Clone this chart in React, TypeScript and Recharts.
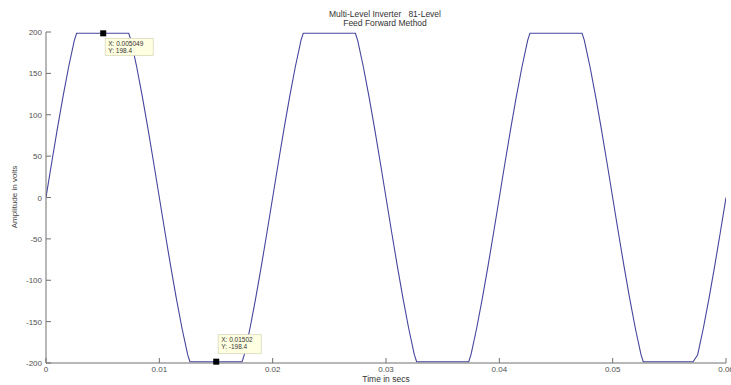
import React from 'react';
import { LineChart, Line, XAxis, YAxis, ReferenceDot } from 'recharts';

const timeSecs = [
  0, 0.0005, 0.001, 0.0015, 0.002, 0.0025, 0.0027, 0.0073, 0.0075, 0.008, 0.0085, 0.009, 0.0095,
  0.01, 0.0105, 0.011, 0.0115, 0.012, 0.0125, 0.0127, 0.0173, 0.0175, 0.018, 0.0185, 0.019, 0.0195,
  0.02, 0.0205, 0.021, 0.0215, 0.022, 0.0225, 0.0227, 0.0273, 0.0275, 0.028, 0.0285, 0.029, 0.0295,
  0.03, 0.0305, 0.031, 0.0315, 0.032, 0.0325, 0.0327, 0.0373, 0.0375, 0.038, 0.0385, 0.039, 0.0395,
  0.04, 0.0405, 0.041, 0.0415, 0.042, 0.0425, 0.0427, 0.0473, 0.0475, 0.048, 0.0485, 0.049, 0.0495,
  0.05, 0.0505, 0.051, 0.0515, 0.052, 0.0525, 0.0527, 0.0571, 0.0575, 0.058, 0.0585, 0.059, 0.0595,
  0.06,
];

const amplitudeVolts = [
  0, 42, 83, 122, 158, 190, 198.4, 198.4, 190, 158, 122, 83, 42,
  0, -42, -83, -122, -158, -190, -198.4, -198.4, -190, -158, -122, -83, -42,
  0, 42, 83, 122, 158, 190, 198.4, 198.4, 190, 158, 122, 83, 42,
  0, -42, -83, -122, -158, -190, -198.4, -198.4, -190, -158, -122, -83, -42,
  0, 42, 83, 122, 158, 190, 198.4, 198.4, 190, 158, 122, 83, 42,
  0, -42, -83, -122, -158, -190, -198.4, -198.4, -190, -158, -122, -83, -42,
  0,
];

const xTicks = [0, 0.01, 0.02, 0.03, 0.04, 0.05, 0.06];
const xTickLabels = ['0', '0.01', '0.02', '0.03', '0.04', '0.05', '0.06'];
const yTicks = [-200, -150, -100, -50, 0, 50, 100, 150, 200];

const dataTips = [
  { x: 0.005049, y: 198.4, xLabel: 'X: 0.005049', yLabel: 'Y: 198.4', dx: 2, dy: 5, w: 48, h: 17 },
  { x: 0.01502, y: -198.4, xLabel: 'X: 0.01502', yLabel: 'Y: -198.4', dx: 2, dy: -27, w: 43, h: 19 },
];

const data = timeSecs.map((t, i) => ({ t, v: amplitudeVolts[i] }));

const AXIS = '#707070';
const TXT = '#505050';
const FONT = 'Liberation Sans, Arial, sans-serif';

const BottomTick = (props: any) => {
  const { x, y, payload } = props;
  const idx = xTicks.indexOf(payload.value);
  return (
    <g>
      <line x1={x} x2={x} y1={y} y2={y - 5} stroke={AXIS} strokeWidth={1} />
      <text x={x} y={y + 9} textAnchor="middle" fontSize={8} fill={TXT} fontFamily={FONT}>
        {idx >= 0 ? xTickLabels[idx] : payload.value}
      </text>
    </g>
  );
};

const TopTick = (props: any) => {
  const { x, y } = props;
  return <line x1={x} x2={x} y1={y} y2={y + 5} stroke={AXIS} strokeWidth={1} />;
};

const LeftTick = (props: any) => {
  const { x, y, payload } = props;
  return (
    <g>
      <line x1={x} x2={x + 5} y1={y} y2={y} stroke={AXIS} strokeWidth={1} />
      <text x={x - 4} y={y + 3} textAnchor="end" fontSize={8} fill={TXT} fontFamily={FONT}>
        {payload.value}
      </text>
    </g>
  );
};

const RightTick = (props: any) => {
  const { x, y } = props;
  return <line x1={x} x2={x - 5} y1={y} y2={y} stroke={AXIS} strokeWidth={1} />;
};

const makeTipShape = (tip: typeof dataTips[number]) => (props: any) => {
  const { cx, cy } = props;
  const bx = cx + tip.dx;
  const by = cy + tip.dy;
  return (
    <g>
      <rect x={bx} y={by} width={tip.w} height={tip.h} fill="#ffffe1" stroke="#d8d8b8" strokeWidth={0.8} />
      <text x={bx + 3} y={by + 7.5} fontSize={6.5} fill="#333" fontFamily={FONT}>{tip.xLabel}</text>
      <text x={bx + 3} y={by + 14.5} fontSize={6.5} fill="#333" fontFamily={FONT}>{tip.yLabel}</text>
      <rect x={cx - 3} y={cy - 3} width={6} height={6} fill="#000" />
    </g>
  );
};

export default function App() {
  return (
    <div style={{ position: 'absolute', left: 0, top: 0, width: 731, height: 385, overflow: 'hidden', background: '#fff' }}>
      <LineChart width={760} height={385} data={data} margin={{ top: 32, right: 34, bottom: 0, left: 0 }}>
        <XAxis
          xAxisId="bottom"
          dataKey="t"
          type="number"
          domain={[0, 0.06]}
          ticks={xTicks}
          orientation="bottom"
          height={22}
          tickSize={0}
          tickMargin={0}
          tickLine={false}
          axisLine={{ stroke: AXIS }}
          tick={BottomTick}
          interval={0}
          allowDataOverflow
        />
        <XAxis
          xAxisId="top"
          dataKey="t"
          type="number"
          domain={[0, 0.06]}
          ticks={xTicks}
          orientation="top"
          height={0}
          tickSize={0}
          tickMargin={0}
          tickLine={false}
          axisLine={{ stroke: AXIS }}
          tick={TopTick}
          interval={0}
          allowDataOverflow
        />
        <YAxis
          yAxisId="left"
          type="number"
          domain={[-200, 200]}
          ticks={yTicks}
          orientation="left"
          width={46}
          tickSize={0}
          tickMargin={0}
          tickLine={false}
          axisLine={{ stroke: AXIS }}
          tick={LeftTick}
          interval={0}
          allowDataOverflow
        />
        <YAxis
          yAxisId="right"
          type="number"
          domain={[-200, 200]}
          ticks={yTicks}
          orientation="right"
          width={0}
          tickSize={0}
          tickMargin={0}
          tickLine={false}
          axisLine={{ stroke: AXIS }}
          tick={RightTick}
          interval={0}
          allowDataOverflow
        />
        <Line
          xAxisId="bottom"
          yAxisId="left"
          dataKey="v"
          type="linear"
          stroke="#45459e"
          strokeWidth={1.1}
          dot={false}
          isAnimationActive={false}
        />
        {dataTips.map((tip, i) => (
          <ReferenceDot
            key={i}
            xAxisId="bottom"
            yAxisId="left"
            x={tip.x}
            y={tip.y}
            r={3}
            ifOverflow="visible"
            shape={makeTipShape(tip)}
          />
        ))}
      </LineChart>
      <svg width={731} height={385} style={{ position: 'absolute', left: 0, top: 0, pointerEvents: 'none' }}>
        <text x={385} y={17} textAnchor="middle" fontSize={8.5} fill="#333" fontFamily={FONT} style={{ whiteSpace: 'pre' }}>
          {'Multi-Level Inverter   81-Level'}
        </text>
        <text x={385} y={26} textAnchor="middle" fontSize={8.5} fill="#333" fontFamily={FONT}>
          Feed Forward Method
        </text>
        <text x={386} y={382} textAnchor="middle" fontSize={8.5} fill="#333" fontFamily={FONT}>
          Time in secs
        </text>
        <text x={17} y={197} textAnchor="middle" fontSize={8} fill="#444" fontFamily={FONT} transform="rotate(-90 17 197)">
          Amplitude in volts
        </text>
      </svg>
    </div>
  );
}
